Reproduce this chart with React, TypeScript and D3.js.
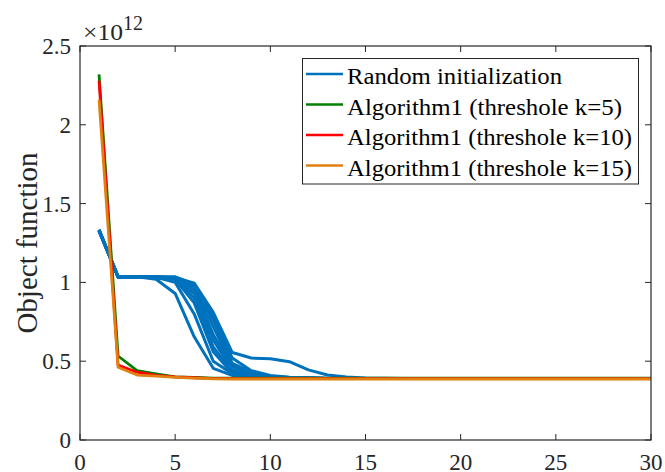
import React from "react";
import * as d3 from "d3";

// Iteration index (x axis)
const iterations = [1,2,3,4,5,6,7,8,9,10,11,12,13,14,15,16,17,18,19,20,21,22,23,24,25,26,27,28,29,30];

// Objective value (×10^12) for ten random initialization runs
const randomRun1 = [1.335,1.035,1.035,1.02,0.93,0.655,0.455,0.41,0.40,0.395,0.393,0.392,0.391,0.39,0.39,0.39,0.39,0.39,0.39,0.39,0.39,0.39,0.39,0.39,0.39,0.39,0.39,0.39,0.39,0.39];
const randomRun2 = [1.33,1.036,1.036,1.035,1.03,0.995,0.81,0.555,0.52,0.515,0.497,0.445,0.412,0.40,0.394,0.392,0.391,0.39,0.39,0.39,0.39,0.39,0.39,0.39,0.39,0.39,0.39,0.39,0.39,0.39];
const randomRun3 = [1.33,1.035,1.035,1.033,1.03,0.97,0.72,0.47,0.42,0.402,0.396,0.393,0.391,0.39,0.39,0.39,0.39,0.39,0.39,0.39,0.39,0.39,0.39,0.39,0.39,0.39,0.39,0.39,0.39,0.39];
const randomRun4 = [1.325,1.034,1.034,1.03,1.02,0.93,0.635,0.445,0.41,0.40,0.395,0.392,0.39,0.39,0.39,0.39,0.39,0.39,0.39,0.39,0.39,0.39,0.39,0.39,0.39,0.39,0.39,0.39,0.39,0.39];
const randomRun5 = [1.33,1.035,1.035,1.032,1.03,0.90,0.59,0.434,0.405,0.398,0.394,0.392,0.39,0.39,0.39,0.39,0.39,0.39,0.39,0.39,0.39,0.39,0.39,0.39,0.39,0.39,0.39,0.39,0.39,0.39];
const randomRun6 = [1.335,1.036,1.036,1.036,1.035,0.99,0.76,0.486,0.43,0.405,0.397,0.393,0.391,0.39,0.39,0.39,0.39,0.39,0.39,0.39,0.39,0.39,0.39,0.39,0.39,0.39,0.39,0.39,0.39,0.39];
const randomRun7 = [1.33,1.035,1.035,1.034,1.03,0.95,0.67,0.465,0.415,0.40,0.395,0.392,0.39,0.39,0.39,0.39,0.39,0.39,0.39,0.39,0.39,0.39,0.39,0.39,0.39,0.39,0.39,0.39,0.39,0.39];
const randomRun8 = [1.33,1.035,1.035,1.03,1.02,0.87,0.56,0.423,0.402,0.396,0.393,0.391,0.39,0.39,0.39,0.39,0.39,0.39,0.39,0.39,0.39,0.39,0.39,0.39,0.39,0.39,0.39,0.39,0.39,0.39];
const randomRun9 = [1.33,1.036,1.036,1.035,1.034,0.98,0.78,0.52,0.44,0.41,0.398,0.394,0.392,0.39,0.39,0.39,0.39,0.39,0.39,0.39,0.39,0.39,0.39,0.39,0.39,0.39,0.39,0.39,0.39,0.39];
const randomRun10 = [1.33,1.035,1.035,1.032,1.00,0.80,0.50,0.42,0.40,0.395,0.392,0.39,0.39,0.39,0.39,0.39,0.39,0.39,0.39,0.39,0.39,0.39,0.39,0.39,0.39,0.39,0.39,0.39,0.39,0.39];

// Objective value (×10^12) for Algorithm1 at three thresholds
const thresholdK5 = [2.32,0.533,0.44,0.42,0.40,0.397,0.392,0.392,0.392,0.392,0.392,0.392,0.392,0.392,0.392,0.392,0.392,0.392,0.392,0.392,0.392,0.392,0.392,0.392,0.392,0.392,0.392,0.392,0.392,0.392];
const thresholdK10 = [2.28,0.476,0.43,0.41,0.40,0.395,0.39,0.39,0.39,0.39,0.39,0.39,0.39,0.39,0.39,0.39,0.39,0.39,0.39,0.39,0.39,0.39,0.39,0.39,0.39,0.39,0.39,0.39,0.39,0.39];
const thresholdK15 = [2.16,0.462,0.412,0.405,0.398,0.393,0.388,0.387,0.387,0.387,0.387,0.387,0.387,0.387,0.387,0.387,0.387,0.387,0.387,0.387,0.387,0.387,0.387,0.387,0.387,0.387,0.387,0.387,0.387,0.387];

const randomRuns = [randomRun1, randomRun2, randomRun3, randomRun4, randomRun5, randomRun6, randomRun7, randomRun8, randomRun9, randomRun10];

const legendLabels = [
  "Random initialization",
  "Algorithm1 (threshole k=5)",
  "Algorithm1 (threshole k=10)",
  "Algorithm1 (threshole k=15)",
];
const legendWidths = [215, 275, 285, 285];
const xTicks = [0, 5, 10, 15, 20, 25, 30];
const yTicks = [0, 0.5, 1, 1.5, 2, 2.5];

const BLUE = "#0072BD";
const GREEN = "#008000";
const RED = "#FF0000";
const ORANGE = "#E0800F";
const AXIS = "#262626";
const FONT = "'Liberation Serif', 'Times New Roman', serif";

export default function App() {
  const width = 665;
  const height = 472;
  const left = 80, right = 651, top = 46, bottom = 440;

  const x = d3.scaleLinear().domain([0, 30]).range([left, right]);
  const y = d3.scaleLinear().domain([0, 2.5]).range([bottom, top]);

  const line = d3
    .line<number>()
    .x((_, i) => x(iterations[i]))
    .y((d) => y(d));

  const algoSeries = [
    { values: thresholdK5, color: GREEN },
    { values: thresholdK10, color: RED },
    { values: thresholdK15, color: ORANGE },
  ];
  const legendColors = [BLUE, GREEN, RED, ORANGE];
  const tick = 6;

  return (
    <svg
      width={width}
      height={height}
      style={{ position: "absolute", left: 0, top: 0, background: "#fff" }}
      fontFamily={FONT}
    >
      <defs>
        <clipPath id="plot-area">
          <rect x={left} y={top} width={right - left} height={bottom - top} />
        </clipPath>
      </defs>

      <g clipPath="url(#plot-area)" fill="none" strokeLinejoin="round">
        {randomRuns.map((run, i) => (
          <path key={`r${i}`} d={line(run) || ""} stroke={BLUE} strokeWidth={3} />
        ))}
        {algoSeries.map((s, i) => (
          <path key={`a${i}`} d={line(s.values) || ""} stroke={s.color} strokeWidth={2.8} />
        ))}
      </g>

      {/* axes box with inward ticks on all four sides */}
      <rect x={left} y={top} width={right - left} height={bottom - top} fill="none" stroke={AXIS} strokeWidth={1.2} />
      {xTicks.map((t) => (
        <g key={`xt${t}`}>
          <line x1={x(t)} x2={x(t)} y1={bottom} y2={bottom - tick} stroke={AXIS} strokeWidth={1} />
          <line x1={x(t)} x2={x(t)} y1={top} y2={top + tick} stroke={AXIS} strokeWidth={1} />
          <text x={x(t)} y={470} textAnchor="middle" fontSize={23} fill={AXIS}>
            {t}
          </text>
        </g>
      ))}
      {yTicks.map((t) => (
        <g key={`yt${t}`}>
          <line x1={left} x2={left + tick} y1={y(t)} y2={y(t)} stroke={AXIS} strokeWidth={1} />
          <line x1={right} x2={right - tick} y1={y(t)} y2={y(t)} stroke={AXIS} strokeWidth={1} />
          <text x={71} y={y(t) + 8} textAnchor="end" fontSize={23} fill={AXIS}>
            {t}
          </text>
        </g>
      ))}

      {/* exponent marker */}
      <text x={83} y={40} fontSize={23} fill={AXIS}>
        <tspan textLength={40} lengthAdjust="spacingAndGlyphs">×10</tspan>
        <tspan dy={-10} fontSize={20}>12</tspan>
      </text>

      {/* y axis title */}
      <text
        transform={`translate(37, ${(top + bottom) / 2}) rotate(-90)`}
        textAnchor="middle"
        fontSize={29}
        fill={AXIS}
      >
        Object function
      </text>

      {/* legend */}
      <rect x={302.5} y={58.5} width={336} height={125.5} fill="#fff" stroke={AXIS} strokeWidth={1} />
      {legendLabels.map((label, i) => {
        const cy = 74 + i * 30.5;
        return (
          <g key={label}>
            <line x1={306} x2={343} y1={cy} y2={cy} stroke={legendColors[i]} strokeWidth={2.6} />
            <text
              x={347}
              y={cy + 10}
              fontSize={23}
              fill="#000"
              textLength={legendWidths[i]}
              lengthAdjust="spacingAndGlyphs"
            >
              {label}
            </text>
          </g>
        );
      })}
    </svg>
  );
}
